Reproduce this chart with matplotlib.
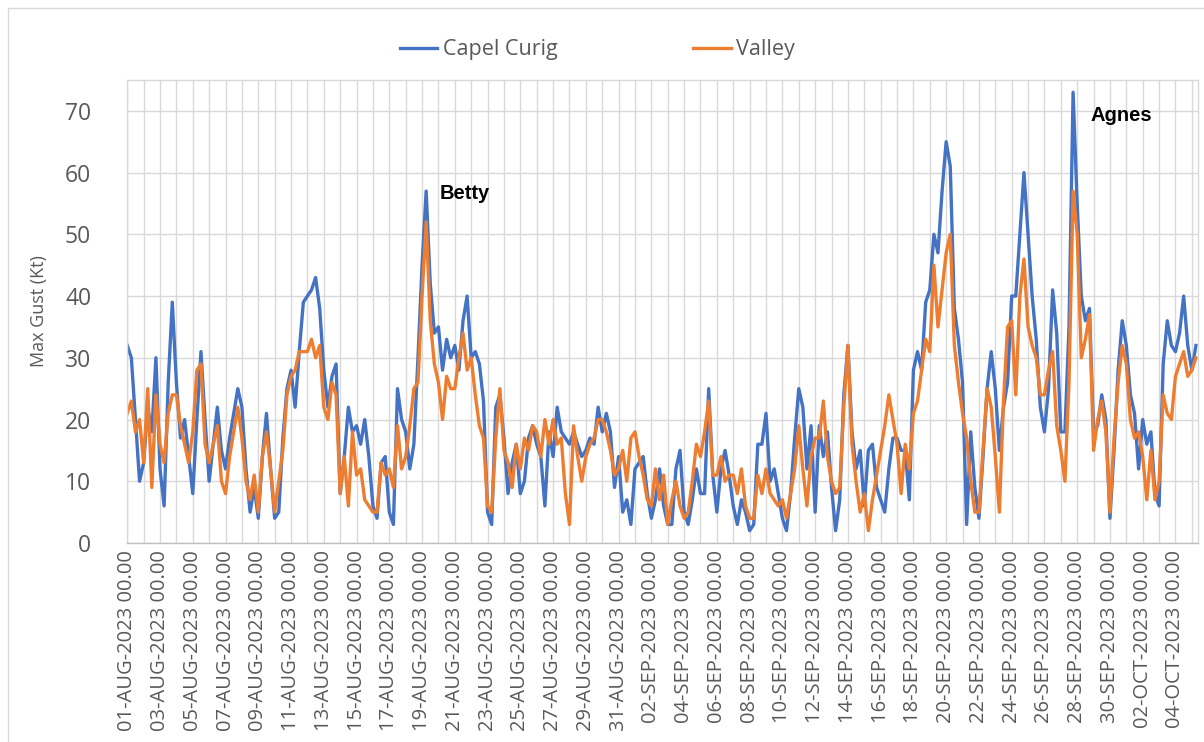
import numpy as np
import pandas as pd
import matplotlib
matplotlib.use('Agg')
import matplotlib.pyplot as plt
import matplotlib.dates as mdates
from matplotlib.patches import Rectangle

#6-hourly max gust readings (kt), 4 values per day from 01-AUG-2023 00:00
capel = [32, 30, 20, 10, 13, 22, 18, 30, 12, 6, 26, 39, 26, 17, 20, 14,
         8, 20, 31, 20, 10, 16, 22, 15, 12, 17, 21, 25, 22, 12, 5, 9,
         4, 14, 21, 12, 4, 5, 17, 25, 28, 22, 31, 39, 40, 41, 43, 38,
         28, 22, 27, 29, 8, 14, 22, 18, 19, 16, 20, 14, 6, 4, 13, 14,
         5, 3, 25, 20, 18, 12, 16, 30, 45, 57, 42, 34, 35, 28, 33, 30,
         32, 28, 36, 40, 30, 31, 29, 23, 5, 3, 22, 24, 17, 8, 13, 16,
         8, 10, 17, 19, 16, 14, 6, 18, 14, 22, 18, 17, 16, 18, 16, 14,
         15, 17, 16, 22, 18, 21, 18, 9, 14, 5, 7, 3, 12, 13, 14, 8,
         4, 7, 12, 6, 3, 3, 12, 15, 5, 3, 7, 12, 8, 8, 25, 11,
         5, 12, 15, 11, 6, 3, 7, 5, 2, 3, 16, 16, 21, 10, 12, 8,
         4, 2, 8, 17, 25, 22, 12, 19, 5, 19, 14, 18, 9, 2, 7, 24,
         32, 18, 12, 15, 6, 15, 16, 9, 7, 5, 12, 17, 17, 15, 15, 7,
         28, 31, 28, 39, 41, 50, 47, 57, 65, 61, 38, 33, 26, 3, 18, 9,
         4, 14, 25, 31, 25, 15, 22, 26, 40, 40, 50, 60, 50, 40, 33, 22,
         18, 25, 41, 34, 18, 18, 35, 73, 55, 40, 36, 38, 18, 19, 24, 20,
         4, 15, 28, 36, 32, 24, 21, 12, 20, 16, 18, 8, 6, 29, 36, 32,
         31, 34, 40, 32, 28, 32]

valley = [21, 23, 18, 20, 13, 25, 9, 24, 16, 13, 21, 24, 24, 19, 16, 13,
          18, 28, 29, 16, 13, 16, 19, 10, 8, 14, 18, 22, 17, 10, 7, 11,
          5, 14, 18, 12, 5, 10, 15, 24, 27, 28, 31, 31, 31, 33, 30, 32,
          22, 20, 26, 24, 8, 14, 6, 18, 11, 12, 7, 6, 5, 5, 13, 11,
          12, 9, 19, 12, 14, 19, 25, 26, 40, 52, 36, 29, 26, 20, 27, 25,
          25, 30, 34, 28, 30, 24, 19, 17, 6, 5, 17, 25, 15, 13, 9, 16,
          12, 17, 15, 19, 18, 14, 20, 16, 20, 16, 17, 8, 3, 19, 14, 10,
          14, 16, 17, 20, 20, 18, 15, 11, 12, 15, 10, 17, 18, 14, 11, 7,
          6, 12, 7, 11, 3, 7, 10, 6, 4, 5, 10, 16, 14, 18, 23, 11,
          11, 14, 10, 11, 11, 8, 12, 6, 4, 4, 11, 8, 12, 8, 7, 6,
          7, 4, 8, 12, 19, 12, 6, 14, 17, 17, 23, 14, 10, 8, 9, 22,
          32, 16, 10, 5, 8, 2, 7, 11, 15, 19, 24, 20, 16, 8, 16, 12,
          21, 23, 28, 33, 31, 45, 35, 41, 47, 50, 32, 26, 21, 17, 10, 5,
          5, 15, 25, 22, 14, 5, 23, 35, 36, 24, 40, 46, 35, 32, 30, 24,
          24, 28, 31, 19, 15, 10, 26, 57, 50, 30, 33, 37, 15, 20, 23, 18,
          5, 17, 26, 32, 29, 20, 17, 18, 14, 7, 15, 7, 10, 24, 21, 20,
          27, 29, 31, 27, 28, 30]

times = pd.date_range('2023-08-01 00:00', periods=len(capel), freq='6h')
tickDates = pd.date_range('2023-08-01', '2023-10-04', freq='2D')
tickLabels = [d.strftime('%d-%b-%Y 00.00').upper() for d in tickDates]

storms = ['Betty', 'Agnes']
stormPos = [(pd.Timestamp('2023-08-20 02:00'), 56.6), (pd.Timestamp('2023-09-28 19:00'), 69.2)]

blue = '#4472C4'
orange = '#ED7D31'
grey = '#595959'
gridCol = '#D9D9D9'

plt.rcParams['font.family'] = ['Open Sans', 'DejaVu Sans']

fig = plt.figure(figsize=(12.04, 7.42), dpi=100)
ax = fig.add_axes([0.1057, 0.2682, 0.8893, 0.6240])

ax.plot(times, capel, color=blue, linewidth=2.4, label='Capel Curig')
ax.plot(times, valley, color=orange, linewidth=2.4, label='Valley')

#axis limits and gridlines (vertical line every day, horizontal every 10 kt)
ax.set_xlim(pd.Timestamp('2023-08-01 00:00'), pd.Timestamp('2023-10-05 09:00'))
ax.set_ylim(0, 75)
ax.set_yticks(np.arange(0, 71, 10))
ax.xaxis.set_minor_locator(mdates.DayLocator())
ax.set_xticks(tickDates)
ax.set_xticklabels(tickLabels, rotation=90, fontsize=14.5, color=grey)
ax.tick_params(axis='y', labelsize=16.5, colors=grey, length=0, pad=26)
ax.tick_params(axis='x', which='both', length=0, pad=5)
ax.grid(True, which='both', axis='x', color=gridCol, linewidth=1)
ax.grid(True, which='major', axis='y', color=gridCol, linewidth=1)
ax.set_axisbelow(True)
for s in ax.spines.values():
    s.set_color(gridCol)
    s.set_linewidth(1)
ax.spines['bottom'].set_color('#BFBFBF')

ax.set_ylabel('Max Gust (Kt)', fontsize=13, color=grey, labelpad=12)

#storm labels
for name, (t, v) in zip(storms, stormPos):
    ax.text(t, v, name, fontsize=14.5, fontweight='bold', family='Liberation Sans',
            ha='left', va='center', color='black')

fig.legend(loc='center', bbox_to_anchor=(0.496, 0.933), ncol=2, frameon=False,
           fontsize=15.5, handlelength=1.75, handletextpad=0.25, columnspacing=6.3,
           labelcolor=grey)

#outer chart border
fig.patches.append(Rectangle((8 / 1204, -0.05), 1.1, 1.05 - 8 / 742, transform=fig.transFigure,
                             fill=False, edgecolor=gridCol, linewidth=1))

fig.savefig('out.png', dpi=100)
